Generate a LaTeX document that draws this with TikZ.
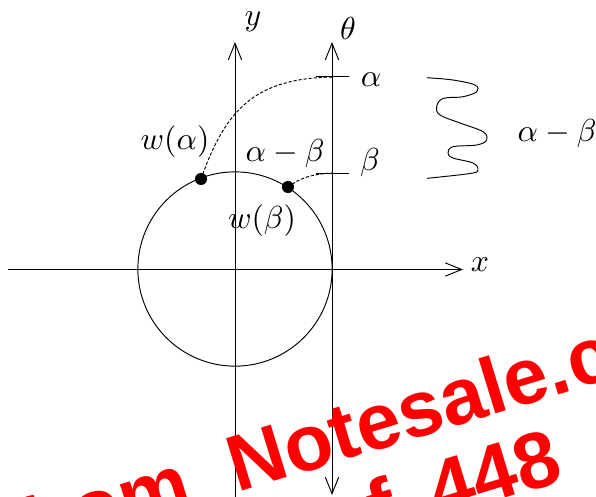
\documentclass[tikz,border=0pt]{standalone}
\usepackage{fontspec}
\newfontfamily\wmfont{Liberation Sans}[BoldFont={Liberation Sans Bold}]
\usetikzlibrary{arrows.meta}
\tikzset{
  axis/.style={line width=0.3pt, -{Straight Barb[length=5.2pt,width=4.2pt]}},
  axisboth/.style={line width=0.3pt, {Straight Barb[length=5.2pt,width=4.2pt]}-{Straight Barb[length=5.2pt,width=4.2pt]}},
  thinline/.style={line width=0.3pt},
  dashline/.style={line width=0.3pt, dash pattern=on 1pt off 0.6pt},
  dotnode/.style={circle, fill=black, inner sep=0pt, minimum size=3.8pt},
  lbl/.style={inner sep=0pt},
  wm/.style={text=red, font=\wmfont\bfseries\fontsize{25}{30}\selectfont, inner sep=0pt, rotate=17}
}
\begin{document}
\begin{tikzpicture}[x=0.315pt, y=-0.315pt]
\useasboundingbox (0,0) rectangle (596,496);
\clip (0,0) rectangle (596,496);
% axes
\coordinate (xs) at (8,269.5);
\coordinate (xe) at (463,269.5);
\coordinate (ys) at (235,500);
\coordinate (ye) at (235,42);
\coordinate (ts) at (332,495);
\coordinate (te) at (332,42);
\draw[axis] (xs) -- (xe);
\draw[axis] (ys) -- (ye);
\draw[axisboth] (ts) -- (te);
% circle
\coordinate (O) at (235,269);
\draw[thinline] (O) circle[radius=30.6pt];
% ticks
\coordinate (a1) at (316,76);
\coordinate (a2) at (349,76);
\coordinate (b1) at (316,173);
\coordinate (b2) at (349,173);
\draw[thinline] (a1) -- (a2);
\draw[thinline] (b1) -- (b2);
% points on circle
\node[dotnode] (wa) at (201,179) {};
\node[dotnode] (wb) at (288,187) {};
\coordinate (ea) at (334,77);
\coordinate (eb) at (333,173);
\draw[dashline] (wa.center) .. controls (226,108) and (256,78) .. (ea);
\draw[dashline] (wb.center) .. controls (300,178) and (312,174) .. (eb);
% wave
\draw[thinline] plot[smooth, tension=0.6] coordinates {(427,77.7) (453,80) (475,85) (476.7,91.7) (463,96.7) (443,98.5) (436.7,106.7) (440,115) (460,123) (483,131.7) (486.7,140) (476.7,145) (453,146.7) (448,153) (453,158) (473,163) (478,170) (470,173.5) (427,178.3)};
% labels
\node[lbl] (ly) at (253,22) {$y$};
\node[lbl] (lt) at (348,28) {$\theta$};
\node[lbl] (lx) at (480,264.5) {$x$};
\node[lbl] (la) at (371,80) {$\alpha$};
\node[lbl] (lb) at (370,163) {$\beta$};
\node[lbl] (lwa) at (175,142) {$w(\alpha)$};
\node[lbl] (lwb) at (262,221) {$w(\beta)$};
\node[lbl] (lab) at (285,154) {$\alpha-\beta$};
\node[lbl] (lab2) at (557,134) {$\alpha-\beta$};
% watermark
\coordinate (w1) at (237,493);
\coordinate (w2) at (438,519);
\node[wm, anchor=base west] (wmA) at (w1) {Notesale.co.uk};
\node[wm, anchor=base east] (wmB) at (w1) {Preview from\kern0.55em};
\node[wm, anchor=base west] (wmC) at (w2) {448};
\node[wm, anchor=base east] (wmD) at (w2) {of\kern0.45em};
\end{tikzpicture}
\end{document}
